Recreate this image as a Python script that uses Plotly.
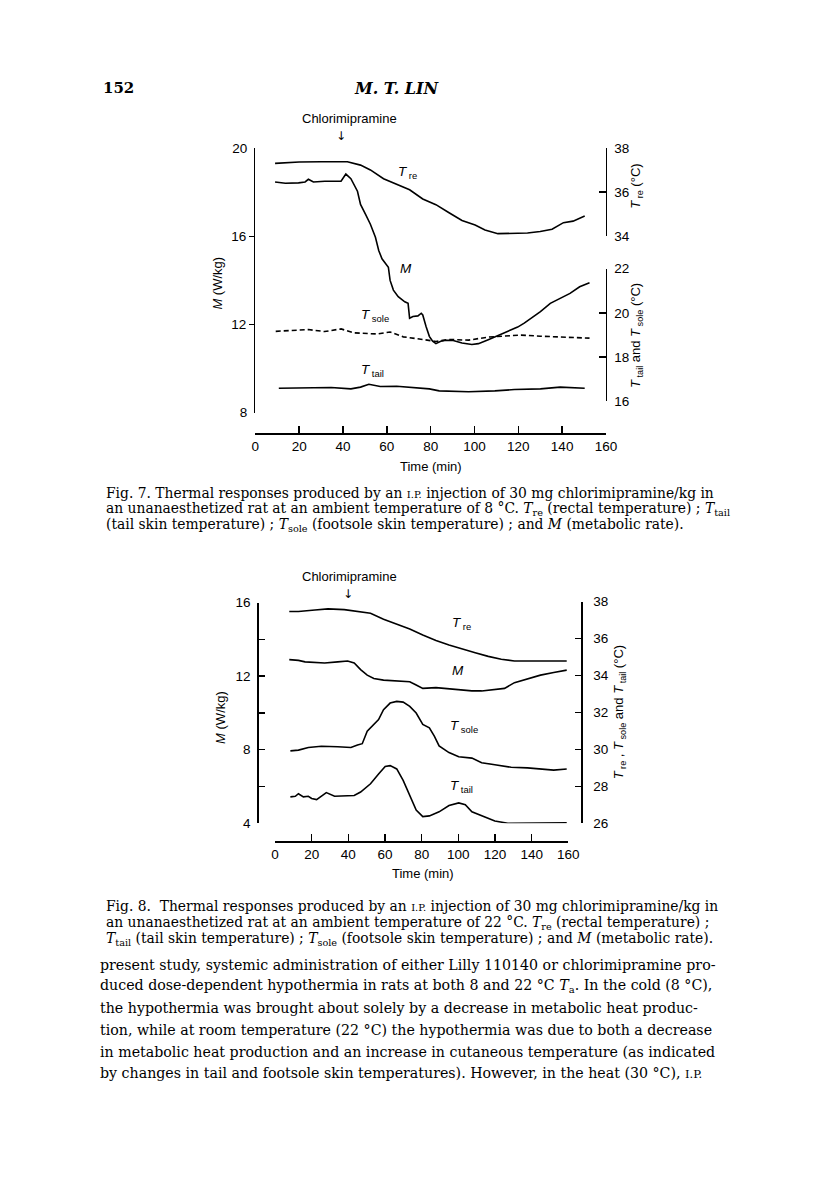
import plotly.graph_objects as go

# Page is 816x1191; the browser keeps its default 8px body margin,
# so the figure itself is 16px smaller and every page position is shifted by 8px.
W, H = 816, 1191
OFF = 8
FW, FH = W - 2 * OFF, H - 2 * OFF
SANS = "Liberation Sans"
SERIF = "DejaVu Serif"

# ---------------- Fig. 7 data (ambient 8 °C) ----------------
f7_tre_t = [9, 15, 20, 30, 42, 48, 52.5, 58.5, 64.5, 70.4, 76.4, 82.4, 88.4, 94.3, 100.3, 104.8,
            110.7, 116.7, 124.2, 130, 135.4, 140.6, 145, 150.3]
f7_tre = [37.30, 37.33, 37.36, 37.37, 37.37, 37.22, 37.0, 36.6, 36.35, 36.1, 35.68, 35.42, 35.05,
          34.7, 34.49, 34.27, 34.1, 34.1, 34.13, 34.2, 34.3, 34.6, 34.67, 34.9]

f7_m_t = [9, 13.7, 19.7, 22.7, 24.2, 26.5, 31.7, 39.1, 41.3, 43.6, 46.6, 48, 50.3, 52.5, 54.8, 56.3,
          57.8, 60.7, 61.5, 63, 65.2, 68.2, 69.7, 70.4, 71.9, 74.2, 75.7, 76.4, 77.9, 79.4, 80.9,
          82.4, 84.6, 86.9, 89.9, 91.3, 94.3, 98.8, 101.8, 106.3, 110.7, 115.2, 119.7, 122.7, 125.7,
          130.1, 134.6, 139.1, 143.6, 148, 152.5]
f7_m = [18.47, 18.41, 18.43, 18.47, 18.59, 18.47, 18.5, 18.5, 18.83, 18.62, 18.05, 17.45, 17.0,
        16.55, 15.96, 15.36, 14.98, 14.6, 14.0, 13.56, 13.26, 13.03, 12.96, 12.28, 12.36, 12.39,
        12.51, 12.43, 11.91, 11.46, 11.24, 11.13, 11.24, 11.28, 11.28, 11.24, 11.16, 11.09, 11.13,
        11.31, 11.5, 11.69, 11.88, 12.06, 12.28, 12.58, 12.96, 13.18, 13.41, 13.71, 13.89]

f7_sole_t = [9.3, 24.2, 31.6, 39.1, 45, 55.5, 61.5, 67.5, 76.4, 82.4, 88.4, 97.3, 106.3, 115.2,
             121.2, 130.1, 139.1, 152.5]
f7_sole = [19.16, 19.24, 19.15, 19.27, 19.09, 19.04, 19.13, 18.91, 18.79, 18.70, 18.79, 18.76,
           18.90, 18.94, 18.99, 18.94, 18.91, 18.85]

f7_tail_t = [10.7, 19.7, 34.6, 43.6, 48, 51.8, 57, 64.5, 79.4, 83.9, 97.3, 109.3, 118.2, 130.1,
             139.1, 150.3]
f7_tail = [16.58, 16.58, 16.61, 16.55, 16.63, 16.76, 16.66, 16.67, 16.55, 16.46, 16.42, 16.46,
           16.52, 16.55, 16.63, 16.58]

# ---------------- Fig. 8 data (ambient 22 °C) ----------------
f8_tre_t = [7.8, 12.8, 21.8, 28.9, 37.8, 45, 52.1, 59.2, 66.4, 73.5, 80.6, 87.8, 94.9, 102,
            109.2, 116.3, 123.4, 130.6, 137.7, 144.8, 152, 159.1]
f8_tre = [37.47, 37.47, 37.55, 37.61, 37.57, 37.48, 37.38, 37.05, 36.79, 36.52, 36.2, 35.9, 35.65,
          35.43, 35.24, 35.04, 34.88, 34.79, 34.79, 34.77, 34.75, 34.79]

f8_m_t = [7.8, 12.8, 16.4, 27.1, 34.2, 39.6, 43.2, 46.7, 50.3, 53.9, 59.2, 66.4, 73.5, 77, 80.6,
          87.8, 94.9, 102, 107.4, 112.7, 119.9, 125.2, 130.6, 137.7, 144.8, 152, 159.1]
f8_m = [12.9, 12.86, 12.78, 12.72, 12.78, 12.83, 12.72, 12.36, 12.06, 11.88, 11.79, 11.76, 11.7,
        11.52, 11.34, 11.38, 11.31, 11.27, 11.2, 11.2, 11.29, 11.34, 11.65, 11.84, 12.06, 12.2, 12.33]

f8_sole_t = [8.4, 12.8, 18.2, 25.3, 34.2, 41.4, 45, 47.6, 50.3, 53.9, 56.5, 59.2, 62.8, 66.4,
             69.9, 73.5, 77, 80.6, 84.2, 86.9, 89.5, 94.9, 100.2, 107.4, 112.7, 119.9, 128.8,
             137.7, 146.6, 152, 159.1]
f8_sole = [29.92, 29.96, 30.1, 30.17, 30.14, 30.1, 30.24, 30.31, 30.99, 31.35, 31.62, 32.15, 32.51,
           32.6, 32.56, 32.33, 31.97, 31.35, 31.17, 30.72, 30.19, 29.83, 29.6, 29.53, 29.28, 29.17,
           29.03, 29.0, 28.94, 28.88, 28.94]

f8_tail_t = [8.4, 11.1, 12.8, 15.5, 18.2, 20, 22.7, 25.3, 28, 32.5, 37.8, 43.2, 46.7, 52.1, 56.5,
             60.1, 62.8, 66.4, 69.9, 73.5, 77, 80.6, 84.2, 89.5, 94.9, 100.2, 103.8, 107.4, 112.7,
             119.9, 127, 137.7, 148.4, 159.1]
f8_tail = [27.43, 27.46, 27.6, 27.43, 27.46, 27.34, 27.28, 27.46, 27.66, 27.46, 27.46, 27.5, 27.69,
           28.14, 28.67, 29.07, 29.12, 28.94, 28.32, 27.52, 26.71, 26.36, 26.4, 26.62, 26.96, 27.1,
           27.01, 26.62, 26.39, 26.12, 26.0, 26.0, 26.0, 26.03]

# tick values
x_ticks = [0, 20, 40, 60, 80, 100, 120, 140, 160]
f7_m_end_ticks = [8, 20]
f7_m_mid_ticks = [12, 16]
f7_tre_ticks = [34, 36, 38]
f7_skin_ticks = [16, 18, 20, 22]
f8_m_ticks = [4, 6, 8, 10, 12, 14, 16]
f8_m_labels = ["4", "", "8", "", "12", "", "16"]
f8_t_ticks = [26, 28, 30, 32, 34, 36, 38]


def px(x):
    return (x - OFF) / FW


def py(y):
    return 1 - (y - OFF) / FH


def xax(left, right, yline):
    return dict(domain=[px(left), px(right)], range=[0, 160], anchor="free", position=py(yline),
                tickmode="array", tickvals=x_ticks, ticks="inside", ticklen=7, tickwidth=1.5,
                tickcolor="black", showline=True, linecolor="black", linewidth=1.5,
                showgrid=False, zeroline=False, fixedrange=True,
                tickfont=dict(family=SANS, size=13.5, color="black"))


def yax(rng, top, bot, xline, side, vals, texts, ticks, ticklen, overlaying=None,
        showline=True, standoff=None):
    d = dict(range=rng, domain=[py(bot), py(top)], anchor="free", position=px(xline), side=side,
             tickmode="array", tickvals=vals, ticktext=texts, ticks=ticks, ticklen=ticklen,
             tickwidth=1.5, tickcolor="black", showline=showline, linecolor="black",
             linewidth=1.5, showgrid=False, zeroline=False, fixedrange=True,
             tickfont=dict(family=SANS, size=13.5, color="black"))
    if overlaying:
        d["overlaying"] = overlaying
    if standoff is not None:
        d["ticklabelstandoff"] = standoff
    return d


fig = go.Figure()
LINE = dict(color="black", width=1.6)

# Fig 7 traces
fig.add_trace(go.Scatter(x=f7_m_t, y=f7_m, mode="lines", line=LINE, xaxis="x", yaxis="y"))
fig.add_trace(go.Scatter(x=f7_tre_t, y=f7_tre, mode="lines", line=LINE, xaxis="x", yaxis="y2"))
fig.add_trace(go.Scatter(x=f7_sole_t, y=f7_sole, mode="lines",
                         line=dict(color="black", width=1.6, dash="5px,3px"), xaxis="x", yaxis="y3"))
fig.add_trace(go.Scatter(x=f7_tail_t, y=f7_tail, mode="lines", line=LINE, xaxis="x", yaxis="y3"))
fig.add_trace(go.Scatter(x=[None], y=[None], mode="lines", xaxis="x", yaxis="y4"))
# Fig 8 traces
fig.add_trace(go.Scatter(x=f8_m_t, y=f8_m, mode="lines", line=LINE, xaxis="x2", yaxis="y5"))
fig.add_trace(go.Scatter(x=f8_tre_t, y=f8_tre, mode="lines", line=LINE, xaxis="x2", yaxis="y6"))
fig.add_trace(go.Scatter(x=f8_sole_t, y=f8_sole, mode="lines", line=LINE, xaxis="x2", yaxis="y6"))
fig.add_trace(go.Scatter(x=f8_tail_t, y=f8_tail, mode="lines", line=LINE, xaxis="x2", yaxis="y6"))

fig.update_traces(showlegend=False, hoverinfo="skip")

fig.update_layout(
    width=FW, height=FH, autosize=False,
    margin=dict(l=0, r=0, t=0, b=0, pad=0),
    paper_bgcolor="white", plot_bgcolor="rgba(0,0,0,0)",
    showlegend=False,
    xaxis=xax(256, 613.3, 431.7),
    xaxis2=xax(276, 575, 845),
    yaxis=yax([8, 20], 143, 410.7, 254.5, "left", f7_m_end_ticks, ["8", "20"], "inside", 5,
              standoff=4),
    yaxis4=yax([8, 20], 143, 410.7, 254.5, "left", f7_m_mid_ticks, ["12", "16"], "outside", 5,
               overlaying="y", showline=False, standoff=0),
    yaxis2=yax([34, 38], 142.7, 231.7, 613.3, "right", f7_tre_ticks,
               [str(v) for v in f7_tre_ticks], "inside", 7, standoff=4),
    yaxis3=yax([16, 22], 265, 399, 613.3, "right", f7_skin_ticks,
               [str(v) for v in f7_skin_ticks], "inside", 7, standoff=4),
    yaxis5=yax([4, 16], 603.3, 826.7, 258, "left", f8_m_ticks, f8_m_labels, "inside", 6,
               standoff=4),
    yaxis6=yax([26, 38], 602.3, 826.7, 588, "right", f8_t_ticks,
               [str(v) for v in f8_t_ticks], "inside", 6, standoff=8),
)

ann = []


def add_text(x, y, text, size=13, family=SANS, xanchor="center", angle=0, color="black"):
    ann.append(dict(x=px(x), y=py(y), xref="paper", yref="paper", text=text, showarrow=False,
                    xanchor=xanchor, yanchor="middle", textangle=angle, borderpad=0,
                    font=dict(family=family, size=size, color=color)))


# chart texts - Fig 7
add_text(352, 113, "Chlorimipramine", 13)
add_text(343, 131, "↓", 12, family="DejaVu Sans")
add_text(217, 280, "<i>M</i> (W/kg)", 13, angle=-90)
add_text(645, 182, "<i>T</i><sub> re</sub> (°C)", 13, angle=-90)
add_text(645, 333, "<i>T</i><sub> tail</sub> and <i>T</i><sub> sole</sub> (°C)", 13, angle=-90)
add_text(435, 465, "Time (min)", 13)
add_text(400, 168, "<i>T</i><sub> re</sub>", 13.5, xanchor="left")
add_text(402, 265, "<i>M</i>", 13.5, xanchor="left")
add_text(363, 312, "<i>T</i><sub> sole</sub>", 13.5, xanchor="left")
add_text(363, 368, "<i>T</i><sub> tail</sub>", 13.5, xanchor="left")

# chart texts - Fig 8
add_text(352, 577, "Chlorimipramine", 13)
add_text(350.5, 594, "↓", 12, family="DejaVu Sans")
add_text(221, 720, "<i>M</i> (W/kg)", 13, angle=-90)
add_text(628, 714, "<i>T</i><sub> re</sub> , <i>T</i><sub> sole</sub> and <i>T</i><sub> tail</sub> (°C)",
         13, angle=-90)
add_text(427, 878, "Time (min)", 13)
add_text(455, 624, "<i>T</i><sub> re</sub>", 13.5, xanchor="left")
add_text(455, 672, "<i>M</i>", 13.5, xanchor="left")
add_text(453, 729, "<i>T</i><sub> sole</sub>", 13.5, xanchor="left")
add_text(453, 789, "<i>T</i><sub> tail</sub>", 13.5, xanchor="left")

# page texts
add_text(100, 82, "<b>152</b>", 15, family=SERIF, xanchor="left")
add_text(400, 82, "<b><i>M. T. LIN</i></b>", 16, family=SERIF)

IP = '<span style="font-size:10px">I.P.</span>'
cap7 = [
    "Fig. 7. Thermal responses produced by an " + IP + " injection of 30 mg chlorimipramine/kg in",
    "an unanaesthetized rat at an ambient temperature of 8 °C. <i>T</i><sub>re</sub> (rectal temperature) ; <i>T</i><sub>tail</sub>",
    "(tail skin temperature) ; <i>T</i><sub>sole</sub> (footsole skin temperature) ; and <i>M</i> (metabolic rate).",
]
cap8 = [
    "Fig. 8.  Thermal responses produced by an " + IP + " injection of 30 mg chlorimipramine/kg in",
    "an unanaesthetized rat at an ambient temperature of 22 °C. <i>T</i><sub>re</sub> (rectal temperature) ;",
    "<i>T</i><sub>tail</sub> (tail skin temperature) ; <i>T</i><sub>sole</sub> (footsole skin temperature) ; and <i>M</i> (metabolic rate).",
]
body = [
    "present study, systemic administration of either Lilly 110140 or chlorimipramine pro-",
    "duced dose-dependent hypothermia in rats at both 8 and 22 °C <i>T</i><sub>a</sub>. In the cold (8 °C),",
    "the hypothermia was brought about solely by a decrease in metabolic heat produc-",
    "tion, while at room temperature (22 °C) the hypothermia was due to both a decrease",
    "in metabolic heat production and an increase in cutaneous temperature (as indicated",
    "by changes in tail and footsole skin temperatures). However, in the heat (30 °C), "
    + '<span style="font-size:11.5px">I.P.</span>',
]
for i, line in enumerate(cap7):
    add_text(103, 492 + i * 16.5, line, 13.85, family=SERIF, xanchor="left")
for i, line in enumerate(cap8):
    add_text(103, 911 + i * 16.5, line, 13.85, family=SERIF, xanchor="left")
for i, line in enumerate(body):
    add_text(97, 970 + i * 22, line, 14.2, family=SERIF, xanchor="left")

fig.update_layout(annotations=ann)

fig.write_html("out.html", config={"displayModeBar": False, "staticPlot": True})
